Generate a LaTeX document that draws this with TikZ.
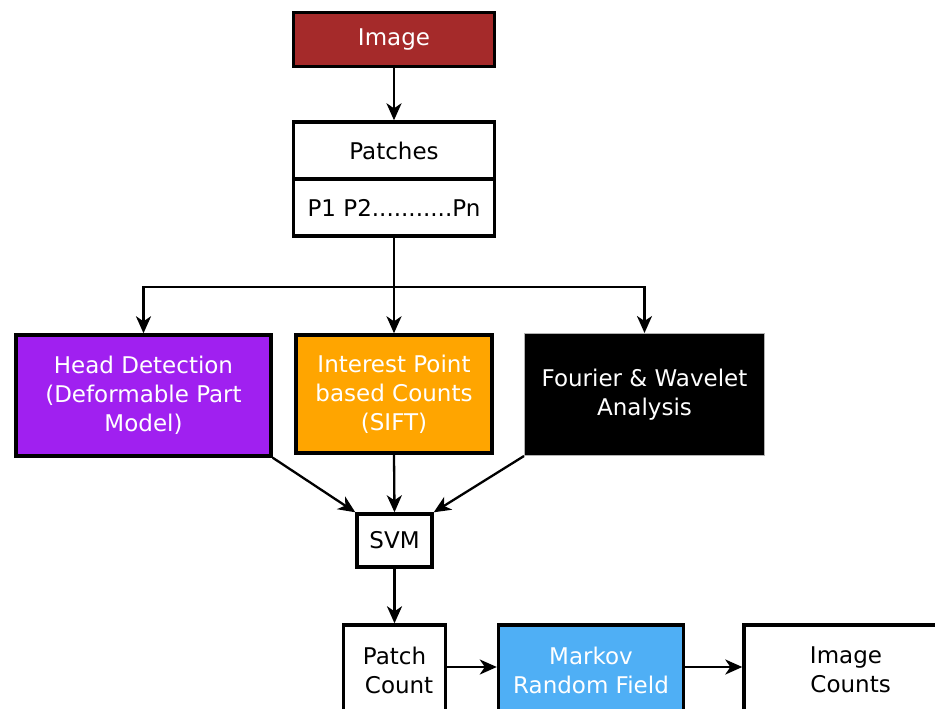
\documentclass[tikz,border=0pt]{standalone}
\usepackage{fontspec}
\setmainfont{DejaVu Sans}
\usetikzlibrary{positioning}
\usetikzlibrary{arrows.meta}
\definecolor{imgred}{RGB}{165,42,42}
\definecolor{headpurple}{RGB}{160,32,240}
\definecolor{siftorange}{RGB}{255,165,0}
\definecolor{mrfblue}{RGB}{79,175,245}
\begin{document}
\begin{tikzpicture}[x=1pt,y=-1pt,
  blk/.style={draw=black,line width=3.4pt,inner sep=0pt,align=center,font=\fontsize{23}{29}\selectfont},
  arr/.style={-{Stealth[length=17pt,width=15pt,inset=5pt]},line width=2.3pt}]
  \useasboundingbox (0,0) rectangle (935,709);

  \node [blk,fill=imgred,text=white,minimum width=201pt,minimum height=54pt]   (img) at (394,39.5)  {Image};
  \node [blk,fill=white,minimum width=201pt,minimum height=57pt]   (patches) at (394,150.5) {Patches};
  \node [blk,fill=white,minimum width=201pt,minimum height=57pt]   (plist)   at (394,207.5) {P1 P2...........Pn};

  \coordinate (split) at (394,287);

  \node [blk,fill=headpurple,text=white,minimum width=255pt,minimum height=121pt] (head) at (143.5,395.5) {Head Detection\\(Deformable Part\\Model)};
  \node [blk,fill=siftorange,text=white,minimum width=196pt,minimum height=118pt] (sift) at (394,394) {Interest Point\\based Counts\\(SIFT)};
  \node [blk,draw=gray!60,line width=1pt,fill=black,text=white,minimum width=240pt,minimum height=122pt] (four) at (644.5,394.5) {Fourier \& Wavelet\\Analysis};

  \node [blk,fill=white,minimum width=75pt,minimum height=53pt]   (svm) at (394.5,540.5) {SVM};

  \node [blk,fill=white,minimum width=102pt,minimum height=90pt]  (pcount) at (394.5,670) {Patch\\\hspace{0.4em}Count};
  \node [blk,fill=mrfblue,text=white,minimum width=185pt,minimum height=90pt] (mrf) at (591,670) {Markov\\Random Field};
  \node [blk,fill=white,minimum width=204pt,minimum height=90pt]  (icount) at (846,670) {Image\\\hspace{0.4em}Counts};

  \draw [arr] (img) -- (patches);
  \draw [line width=2.3pt] (plist.south) -- (split);
  \draw [arr] (split) -- (sift.north);
  \draw [arr] (split) -| (head.north);
  \draw [arr] (split) -| (four.north);

  \draw [arr] (head.south east) -- (svm.north west);
  \draw [arr] (sift.south) -- (svm.north);
  \draw [arr] (four.south west) -- (svm.north east);

  \draw [arr] (svm) -- (pcount);
  \draw [arr] (pcount.east |- 0,667) -- (mrf.west |- 0,667);
  \draw [arr] (mrf.east |- 0,667) -- (icount.west |- 0,667);
\end{tikzpicture}
\end{document}
